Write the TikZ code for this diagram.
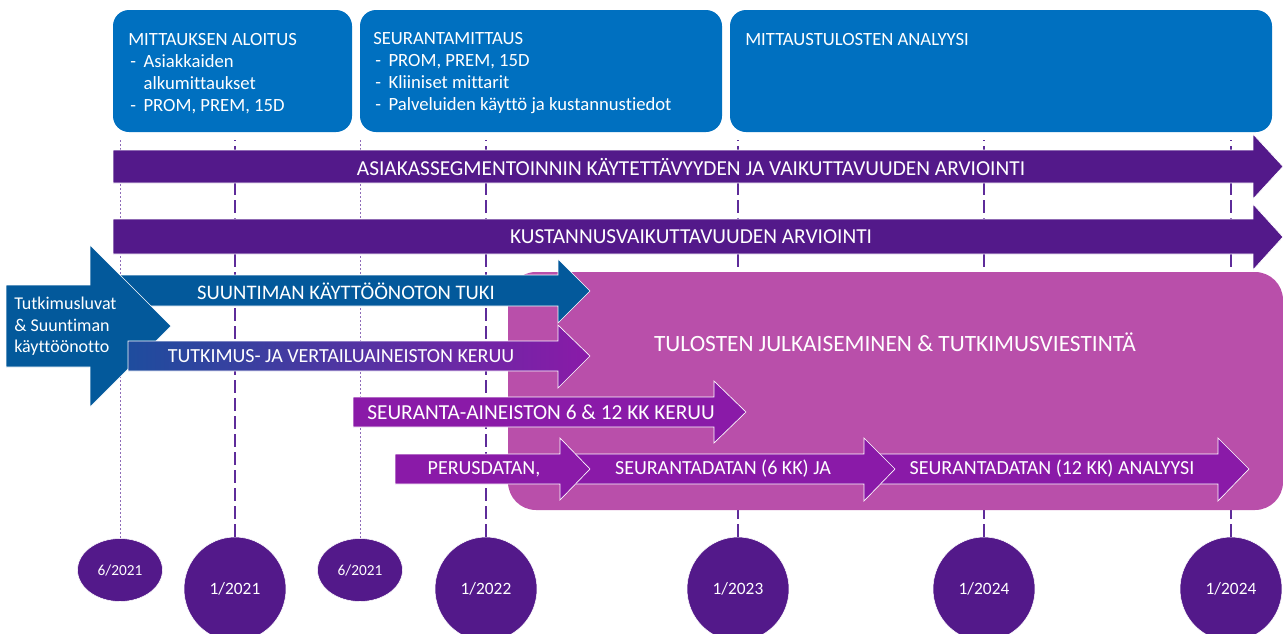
\documentclass[tikz,border=0pt]{standalone}
\usepackage{fontspec}
\setmainfont{Carlito}[Ligatures=NoCommon]
\usetikzlibrary{shapes.geometric}
\definecolor{boxblue}{HTML}{0070C0}
\definecolor{tlnavy}{HTML}{03599B}
\definecolor{tlviolet}{HTML}{53198A}
\definecolor{tlpurple}{HTML}{8A1AA8}
\definecolor{tlpink}{HTML}{B94FAA}
\definecolor{tlline}{HTML}{5E2C9A}
\newcommand{\tldash}{\makebox[11.5pt][l]{\hspace{1.5pt}-}}
\tikzset{
  topbox/.style={fill=boxblue, rounded corners=12pt},
  bar/.style={draw=white, line width=0.5pt},
  bartext/.style={text=white, font=\fontsize{16}{18}\selectfont, inner sep=0pt},
  boxtext/.style={text=white, font=\fontsize{14}{16.5}\selectfont, align=left, anchor=north west, inner sep=0pt},
  bigdate/.style={ellipse, fill=tlviolet, draw=white, line width=0.4pt, minimum width=76.5pt, minimum height=78pt, text=white, font=\fontsize{13}{15}\selectfont},
  smalldate/.style={ellipse, fill=tlviolet, draw=white, line width=0.4pt, minimum width=63.75pt, minimum height=47.25pt, text=white, font=\fontsize{11.5}{13}\selectfont},
  dashtick/.style={tlline, line width=1.5pt, dash pattern=on 9.75pt off 3.75pt},
  dottick/.style={tlline!70, line width=0.75pt, dash pattern=on 1.5pt off 1.5pt}
}
\begin{document}
\begin{tikzpicture}[x=0.75pt, y=-0.75pt]
\useasboundingbox (0,0) rectangle (1283,633);
\clip (0,0) rectangle (1283,633);
% dates
\node[smalldate] (d0) at (120,570) {6/2021};
\node[bigdate] (d1) at (235,589) {1/2021};
\node[smalldate] (d2) at (360,570) {6/2021};
\node[bigdate] (d3) at (486,589) {1/2022};
\node[bigdate] (d4) at (738,589) {1/2023};
\node[bigdate] (d5) at (984,589) {1/2024};
\node[bigdate] (d6) at (1231,589) {1/2024};
\coordinate (top) at (0,140);
\foreach \d in {d0,d2}
  \draw[dottick] (\d.north) -- (\d.north |- top);
\foreach \d in {d1,d3,d4,d5,d6}
  \draw[dashtick] (\d.north) -- (\d.north |- top);
% measurement boxes
\fill[topbox] (113,10) rectangle (352,132);
\fill[topbox] (360,10) rectangle (722,132);
\fill[topbox] (730,10) rectangle (1272,132);
\node[boxtext] (aloitus) at (128,33) {MITTAUKSEN ALOITUS\\\tldash Asiakkaiden\\\hspace*{11.5pt}alkumittaukset\\\tldash PROM, PREM, 15D};
\node[boxtext] (seurmitt) at (373,32) {SEURANTAMITTAUS\\\tldash PROM, PREM, 15D\\\tldash Kliiniset mittarit\\\tldash Palveluiden käyttö ja kustannustiedot};
\node[boxtext] (analyysi) at (745,33) {MITTAUSTULOSTEN ANALYYSI};
% evaluation arrows
\draw[bar, fill=tlviolet] (113,150) -- (1253,150) -- (1253,134) -- (1283,166.5) -- (1253,199) -- (1253,183) -- (113,183) -- cycle;
\node[bartext] (asiakas) at (691,167) {ASIAKASSEGMENTOINNIN KÄYTETTÄVYYDEN JA VAIKUTTAVUUDEN ARVIOINTI};
\draw[bar, fill=tlviolet] (113,219) -- (1253,219) -- (1253,204) -- (1283,237) -- (1253,270) -- (1253,254) -- (113,254) -- cycle;
\node[bartext] (kustannus) at (691,237) {KUSTANNUSVAIKUTTAVUUDEN ARVIOINTI};
% publication area
\fill[tlpink, rounded corners=21pt] (508,272) rectangle (1283,510);
\node[text=white, font=\fontsize{17.5}{20}\selectfont, inner sep=0pt] (tulosten) at (895,342) {TULOSTEN JULKAISEMINEN \& TUTKIMUSVIESTINTÄ};
% start-up
\draw[bar, fill=tlnavy] (118,275) -- (558,275) -- (558,259) -- (590,291) -- (558,323) -- (558,306) -- (118,306) -- cycle;
\node[bartext, font=\fontsize{15.5}{18}\selectfont] (tuki) at (346,291) {SUUNTIMAN KÄYTTÖÖNOTON TUKI};
\draw[bar, fill=tlnavy] (6,285) -- (90,285) -- (90,245) -- (171,326) -- (90,407) -- (90,367) -- (6,367) -- cycle;
\node[boxtext, font=\fontsize{13.5}{16}\selectfont] (luvat) at (14,297) {Tutkimusluvat\\\& Suuntiman\\käyttöönotto};
\draw[bar, left color=tlnavy!80!tlpurple, right color=tlpurple] (128,341) -- (558,341) -- (558,325) -- (590,356) -- (558,388) -- (558,371) -- (128,371) -- cycle;
\node[bartext, font=\fontsize{15}{18}\selectfont] (keruu) at (341,356) {TUTKIMUS- JA VERTAILUAINEISTON KERUU};
% follow-up data
\draw[bar, fill=tlpurple] (353,397) -- (714,397) -- (714,381) -- (746,412) -- (714,443) -- (714,427) -- (353,427) -- cycle;
\node[bartext] (seuranta) at (541,412) {SEURANTA-AINEISTON 6 \& 12 KK KERUU};
\draw[bar, fill=tlpurple] (864,454) -- (1218,454) -- (1218,438) -- (1249,469) -- (1218,501) -- (1218,484) -- (864,484) -- cycle;
\draw[bar, fill=tlpurple] (560,454) -- (864,454) -- (864,438) -- (895,469) -- (864,501) -- (864,484) -- (560,484) -- cycle;
\draw[bar, fill=tlpurple] (395,454) -- (560,454) -- (560,438) -- (590,469) -- (560,500) -- (560,484) -- (395,484) -- cycle;
\node[bartext, font=\fontsize{15}{18}\selectfont] (perus) at (484,469) {PERUSDATAN,};
\node[bartext, font=\fontsize{15}{18}\selectfont] (seur6) at (723,469) {SEURANTADATAN (6 KK) JA};
\node[bartext, font=\fontsize{15}{18}\selectfont] (seur12) at (1052,469) {SEURANTADATAN (12 KK) ANALYYSI};
\end{tikzpicture}
\end{document}
